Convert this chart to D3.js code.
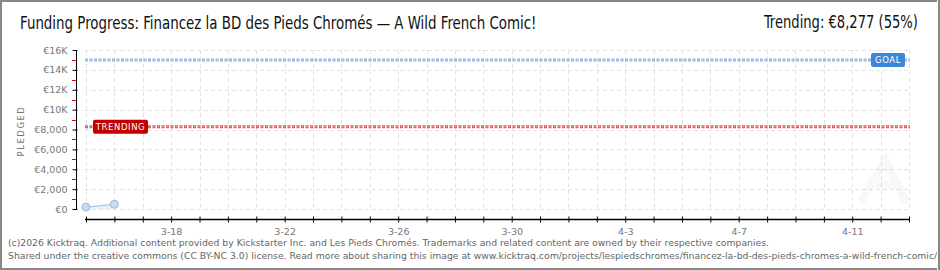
<!DOCTYPE html>
<html><head><meta charset="utf-8">
<script src="https://cdn.jsdelivr.net/npm/d3@7"></script>
<style>
html,body{margin:0;padding:0;background:#fff;}
svg{display:block;}
</style></head>
<body>
<svg id="c" width="940" height="270"></svg>
<script>
const titleText = "Funding Progress: Financez la BD des Pieds Chromés — A Wild French Comic!";
const trendText = "Trending: €8,277 (55%)";
const pledgeDates = ["2026-03-15", "2026-03-16"];
const pledgeValues = [190, 470];
const goalValue = 15000;
const trendingValue = 8277;
const xDomain = ["2026-03-15", "2026-04-13"];
const yTickValues = [0, 2000, 4000, 6000, 8000, 10000, 12000, 14000, 16000];
const yMinorTicks = [1000, 3000, 5000, 7000, 9000, 11000, 13000, 15000];
const footerLines = [
  "(c)2026 Kicktraq. Additional content provided by Kickstarter Inc. and Les Pieds Chromés. Trademarks and related content are owned by their respective companies.",
  "Shared under the creative commons (CC BY-NC 3.0) license. Read more about sharing this image at www.kicktraq.com/projects/lespiedschromes/financez-la-bd-des-pieds-chromes-a-wild-french-comic/"
];

const parse = d3.timeParse("%Y-%m-%d");
const svg = d3.select("#c");
const W = 940, H = 270;

// border
svg.append("rect").attr("x",1).attr("y",1).attr("width",W-2).attr("height",H-2)
  .attr("fill","#fff").attr("stroke","#888").attr("stroke-width",2);

const x = d3.scaleTime().domain(xDomain.map(parse)).range([86, 909]);
const y = d3.scaleLinear().domain([0,16000]).range([209, 50]);
const plotL = 85, plotR = 910;

// grid
const days = d3.timeDay.range(parse(xDomain[0]), d3.timeDay.offset(parse(xDomain[1]),1));
const grid = svg.append("g");
grid.selectAll("line.v").data(days).join("line")
  .attr("x1", d=>Math.round(x(d))+0.5).attr("x2", d=>Math.round(x(d))+0.5)
  .attr("y1", y(16000)).attr("y2", y(0))
  .attr("stroke","#e2e2e2").attr("stroke-dasharray","4,3");
grid.selectAll("line.h").data(yTickValues).join("line")
  .attr("x1", plotL).attr("x2", plotR)
  .attr("y1", d=>Math.round(y(d))+0.5).attr("y2", d=>Math.round(y(d))+0.5)
  .attr("stroke","#e2e2e2").attr("stroke-dasharray","4,3");

// watermark (very faint)
const wm = svg.append("g").attr("opacity",0.025).attr("fill","none").attr("stroke","#000").attr("stroke-width",8).attr("stroke-linecap","round");
wm.append("path").attr("d","M862,200 L885,160 L905,200");
wm.append("path").attr("d","M872,185 L898,185");

// y axis
const yAxis = d3.axisLeft(y).tickValues(yTickValues).tickSize(4).tickPadding(5)
  .tickFormat(d => d >= 10000 ? "€" + (d/1000) + "K" : "€" + d3.format(",")(d));
const gy = svg.append("g").attr("transform","translate(76.5,0)").call(yAxis);
gy.select(".domain").attr("stroke","#000").attr("d", `M0,${y(16000)}V${y(0)}`);
gy.selectAll(".tick line").attr("stroke","#000").attr("x2",-4).attr("x1",1);
gy.selectAll(".tick text").attr("fill","#777").attr("font-family","DejaVu Sans").attr("font-size","9.5px");
svg.append("g").selectAll("line").data(yMinorTicks).join("line")
  .attr("x1",72).attr("x2",76).attr("y1",d=>Math.round(y(d))+0.5).attr("y2",d=>Math.round(y(d))+0.5)
  .attr("stroke","#e00000");

// x axis
const xAxis = d3.axisBottom(x).tickValues(days.filter(d=>d<=parse(xDomain[1]))).tickSize(3).tickPadding(6)
  .tickFormat(d => (d3.timeDay.count(parse("2026-03-18"), d) % 4 === 0) ? d3.timeFormat("%-m-%-d")(d) : "");
const gx = svg.append("g").attr("transform","translate(0,219.5)").call(xAxis);
gx.select(".domain").attr("stroke","#000").attr("stroke-width",1.5).attr("d", `M${plotL},0H${plotR}`);
gx.selectAll(".tick line").attr("stroke","#000").attr("y1",-3).attr("y2",3);
gx.selectAll(".tick text").attr("fill","#777").attr("font-family","DejaVu Sans").attr("font-size","9.5px");

// PLEDGED label
svg.append("text").attr("transform","translate(24,131) rotate(-90)").attr("text-anchor","middle")
  .attr("font-family","DejaVu Sans").attr("font-size","8.5px").attr("letter-spacing","1.5px").attr("fill","#777").text("PLEDGED");

// goal line
svg.append("line").attr("x1",plotL).attr("x2",plotR).attr("y1",y(goalValue)).attr("y2",y(goalValue))
  .attr("stroke","#8fb2dd").attr("stroke-width",3).attr("stroke-dasharray","3,1.5");
svg.append("line").attr("x1",plotL).attr("x2",plotR).attr("y1",y(goalValue)).attr("y2",y(goalValue))
  .attr("stroke","#c8dbf1").attr("stroke-width",1).attr("stroke-dasharray","1.5,3").attr("stroke-dashoffset",-0.75);
// trending line
svg.append("line").attr("x1",plotL).attr("x2",plotR).attr("y1",y(trendingValue)).attr("y2",y(trendingValue))
  .attr("stroke","#dd5555").attr("stroke-width",3).attr("stroke-dasharray","3,1.5");
svg.append("line").attr("x1",plotL).attr("x2",plotR).attr("y1",y(trendingValue)).attr("y2",y(trendingValue))
  .attr("stroke","#f2b5b5").attr("stroke-width",1).attr("stroke-dasharray","1.5,3").attr("stroke-dashoffset",-0.75);

// labels
function badge(cx, cy, w, h, fill, label){
  const g = svg.append("g");
  g.append("rect").attr("x",cx).attr("y",cy-h/2).attr("width",w).attr("height",h).attr("rx",2)
    .attr("fill",fill);
  g.append("text").attr("x",cx+w/2).attr("y",cy+3.2).attr("text-anchor","middle")
    .attr("font-family","DejaVu Sans").attr("font-size","8.5px").attr("letter-spacing","0.6px")
    .attr("fill","#fff").text(label);
}
badge(871, y(goalValue), 34, 14, "#3b86d8", "GOAL");
badge(93, y(trendingValue), 55, 14, "#c00000", "TRENDING");

// data
const pts = pledgeDates.map((d,i)=>({date: parse(d), v: pledgeValues[i]}));
svg.append("path").datum(pts)
  .attr("d", d3.area().x(d=>x(d.date)).y0(y(0)).y1(d=>y(d.v)))
  .attr("fill","#eaf2fc");
svg.append("path").datum(pts)
  .attr("d", d3.line().x(d=>x(d.date)).y(d=>y(d.v)))
  .attr("fill","none").attr("stroke","#a9c8ec").attr("stroke-width",1.2);
svg.selectAll("circle.p").data(pts).join("circle")
  .attr("cx", d=>x(d.date)).attr("cy", d=>y(d.v)).attr("r",4)
  .attr("fill","#c7ddf6").attr("stroke","#94b8e2").attr("stroke-width",1);

// title texts, squeezed horizontally to the reference widths
function fitText(str, x0, y0, target){
  const el = svg.append("text").attr("x",0).attr("y",0)
    .attr("font-family","Liberation Sans Narrow, DejaVu Sans Condensed, Roboto").attr("font-size","17px")
    .attr("fill","#111").text(str);
  const w = el.node().getComputedTextLength();
  const sx = Math.min(1, target / w);
  el.attr("transform", `translate(${x0},${y0}) scale(${sx},1)`);
  return el;
}
fitText(titleText, 20, 29, 517);
fitText(trendText, 764, 28, 154);

// footer
const f1 = svg.append("text").attr("x",8).attr("y",246).attr("font-family","DejaVu Sans").attr("font-size","10px").attr("fill","#666").text(footerLines[0]);
const natural = f1.node().getComputedTextLength();
const fs = 10 * 762 / natural;
f1.attr("font-size", fs+"px");
svg.append("text").attr("x",8).attr("y",259).attr("font-family","DejaVu Sans").attr("font-size",fs+"px").attr("fill","#666").text(footerLines[1]);
// redraw right border above clipped text
svg.append("rect").attr("x",W-2).attr("y",0).attr("width",2).attr("height",H).attr("fill","#888");
svg.append("rect").attr("x",W-3).attr("y",0).attr("width",1).attr("height",H).attr("fill","#fff");
</script>
</body></html>
